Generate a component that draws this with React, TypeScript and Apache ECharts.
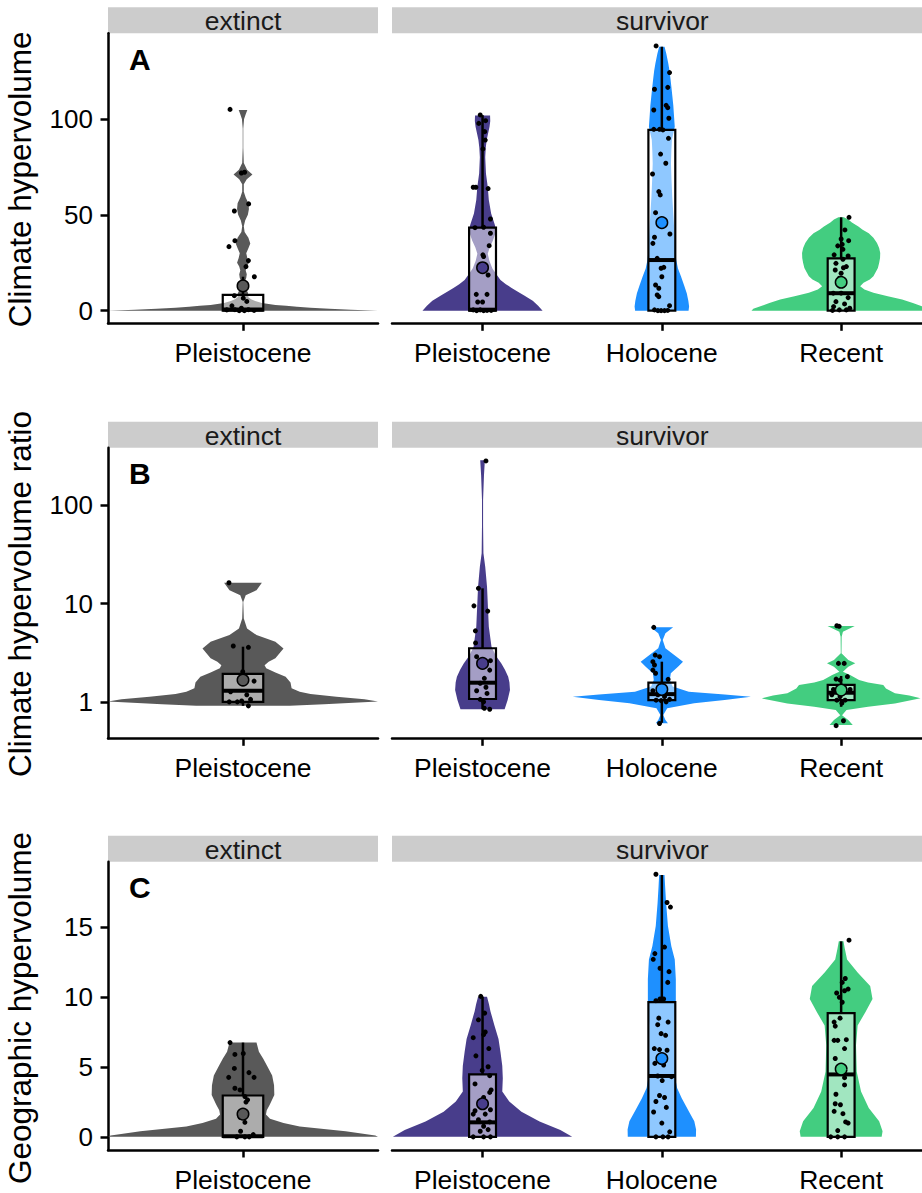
import React, { useEffect, useRef } from "react";
import * as echarts from "echarts";

// ---------- categories, labels ----------
const extinctCategories = ["Pleistocene"];
const survivorCategories = ["Pleistocene", "Holocene", "Recent"];
const facetLabels = ["extinct", "survivor"];
const panelLetters = ["A", "B", "C"];
const yTitles = ["Climate hypervolume", "Climate hypervolume ratio", "Geographic hypervolume"];
const yTicksA = [0, 50, 100];
const yTicksB = [1, 10, 100];
const yTicksC = [0, 5, 10, 15];

const colorExtinct = "#595959";
const colorPleistocene = "#483D8B";
const colorHolocene = "#1E90FF";
const colorRecent = "#43CD80";

// ---------- Panel A: climate hypervolume ----------
// violin profiles: [value, half-width in category units]
const violinA_ext = [[0,0.5],[0.5,0.4],[1,0.32],[1.5,0.25],[2,0.2],[2.5,0.16],[3,0.12],[4,0.07],[5,0.045],[6,0.03],[7,0.02],[8,0.02],[9.5,0.018],[11,0.012],[13,0.006],[15,0.006],[17,0.012],[19,0.014],[21,0.01],[23,0.014],[25,0.022],[27.5,0.016],[30,0.012],[32.5,0.02],[35,0.027],[38,0.02],[41,0.006],[44,0.003],[47,0.008],[50,0.018],[53,0.022],[56,0.02],[59,0.01],[62,0.003],[66,0.003],[68.5,0.014],[71,0.035],[73.5,0.015],[77,0.003],[85,0.001],[95,0.001],[100,0.004],[102.5,0.01],[104.7,0.016]];
const violinA_ple = [[0,0.335],[2.5,0.31],[5.2,0.28],[8,0.23],[10.3,0.19],[12,0.16],[13.8,0.13],[16,0.1],[19,0.077],[22,0.055],[26,0.038],[29.7,0.029],[33,0.04],[36.6,0.058],[41.8,0.077],[45,0.068],[50.7,0.048],[57.7,0.035],[64.6,0.029],[71.6,0.019],[80,0.015],[85,0.018],[89,0.023],[96,0.039],[99,0.043],[101.8,0.042]];
const violinA_hol = [[0,0.149],[2.1,0.152],[5,0.148],[9.1,0.139],[13,0.125],[17.8,0.107],[22,0.09],[26.5,0.08],[32,0.074],[38.6,0.071],[44,0.068],[49.1,0.065],[55,0.061],[59.5,0.058],[68.2,0.054],[76.8,0.051],[83,0.053],[89,0.056],[95.9,0.072],[102.9,0.067],[107,0.064],[111.6,0.059],[116,0.054],[120.3,0.049],[125,0.043],[129,0.036],[134,0.025],[137.7,0.015]];
const violinA_rec = [[0,0.5],[1,0.49],[2.3,0.45],[4,0.4],[5.8,0.34],[7.5,0.26],[9.3,0.18],[11,0.13],[12.7,0.106],[14.5,0.125],[16.2,0.16],[18,0.18],[19.7,0.19],[22.3,0.205],[24.9,0.212],[27.5,0.217],[30.1,0.218],[32.7,0.212],[35.3,0.2],[38,0.18],[40.4,0.154],[42.2,0.12],[43.9,0.096],[46,0.06],[47.5,0.04],[48.7,0.015]];
// box: [lower whisker, q1, median, q3, upper whisker]
const boxA_ext = [0, 0, 0.6, 8.2, 17.7];
const boxA_ple = [0, 0, 0.5, 43.3, 102];
const boxA_hol = [0, 0, 26.4, 94.3, 137.7];
const boxA_rec = [0, 0, 9.1, 27.3, 48.7];
const meansA = [12.9, 22.4, 45.9, 14.8];
// points: [jitter offset, value]
const pointsA_ext = [[-0.048,105],[-0.006,71.8],[0.006,72.2],[0.021,55.7],[-0.032,52],[-0.03,36.5],[-0.052,33.4],[0.02,26.1],[0.011,23],[0.042,17.7],[-0.032,7.8],[0.001,6.5],[0.014,4.8],[-0.041,2.5],[-0.006,1.3],[-0.03,0.5],[0.02,0.5],[0.041,0.1],[-0.06,0.4],[0.005,0],[-0.014,0]];
const pointsA_ple = [[-0.013,102.1],[-0.021,97.7],[0.017,99.1],[0.012,93.4],[0.015,89],[0.002,84.4],[-0.052,64.4],[-0.037,64.4],[0.031,63.7],[0.044,47.8],[-0.042,43.3],[0.006,43.5],[0.044,40.4],[0.037,33.9],[0.002,29.1],[0.006,28.2],[0.031,18.6],[-0.035,8.5],[0.025,8.5],[-0.027,4.5],[0,4.5],[-0.052,0.4],[-0.013,0.4],[0.025,0.1],[0.048,0.1],[0.006,0],[-0.033,0]];
const pointsA_hol = [[-0.032,138.1],[0.043,124.2],[-0.041,115.5],[0.033,116.5],[-0.045,104.7],[0.024,107.1],[0.033,105.9],[0.039,100.4],[-0.045,94.6],[-0.013,94.6],[0.006,94.3],[0.037,89.9],[-0.007,81.7],[0.022,76.9],[-0.052,71.3],[-0.017,62.1],[-0.009,60.4],[-0.035,51.1],[0.045,40],[-0.041,38.3],[-0.05,35.1],[-0.026,27.3],[0.011,22.6],[-0.004,22.1],[0,17.7],[-0.035,13.4],[-0.017,11.7],[-0.026,8.2],[-0.017,7.3],[0.043,2.6],[-0.041,0.4],[-0.022,0],[-0.004,0],[0.015,0],[0.033,0.1]];
const pointsA_rec = [[0.044,48.7],[0.021,42.1],[0,37.4],[0.042,36.5],[-0.019,33.8],[0.006,34.6],[0.01,32],[-0.039,29.1],[0.039,28.5],[0.01,26.8],[-0.029,24.7],[0.029,23],[-0.033,21.2],[0.013,22.4],[0,19.5],[-0.01,16.9],[-0.044,9.1],[0,9.1],[0.039,6.8],[-0.029,4.7],[0.019,3.5],[-0.042,2.1],[-0.01,0.4],[0.029,0.4],[-0.048,0.1],[0.048,1.3]];

// ---------- Panel B: climate hypervolume ratio (log scale) ----------
const violinB_ext = [[0.925,0.173],[0.955,0.3],[1.016,0.5],[1.072,0.45],[1.14,0.346],[1.216,0.25],[1.282,0.21],[1.387,0.18],[1.585,0.176],[1.82,0.158],[2.0,0.12],[2.21,0.086],[2.38,0.08],[2.57,0.095],[2.79,0.12],[3.52,0.15],[4.11,0.12],[4.81,0.05],[5.61,0.015],[7.08,0.003],[10.4,0.001],[12.2,0.01],[13.7,0.05],[16.3,0.07]];
const violinB_ple = [[0.85,0.123],[0.871,0.125],[1.057,0.14],[1.334,0.153],[1.585,0.15],[1.82,0.143],[2.14,0.125],[2.48,0.105],[2.95,0.075],[3.66,0.05],[5.83,0.035],[9.29,0.03],[14.8,0.025],[23.7,0.015],[32.4,0.005],[63,0.003],[112,0.003],[200,0.008],[285,0.013]];
const violinB_hol = [[0.612,0.034],[0.661,0.02],[0.745,0.008],[0.871,0.03],[0.977,0.18],[1.057,0.35],[1.14,0.497],[1.2,0.35],[1.282,0.15],[1.442,0.06],[1.683,0.045],[1.968,0.05],[2.296,0.09],[2.582,0.118],[2.904,0.08],[3.524,0.02],[4.285,0.005],[5.01,0.02],[5.75,0.063]];
const violinB_rec = [[0.589,0.065],[0.661,0.04],[0.741,0.005],[0.834,0.03],[0.902,0.15],[0.975,0.3],[1.096,0.443],[1.175,0.38],[1.233,0.3],[1.38,0.25],[1.5,0.235],[1.585,0.15],[1.683,0.1],[1.892,0.05],[2.042,0.01],[2.296,0.04],[2.483,0.079],[2.685,0.04],[3.133,0.002],[4.624,0.003],[5.2,0.01],[5.93,0.076]];
const boxB_ext = [0.92, 1.01, 1.31, 1.94, 3.66];
const boxB_ple = [0.85, 1.08, 1.58, 3.53, 14.3];
const boxB_hol = [0.62, 1.05, 1.21, 1.58, 2.58];
const boxB_rec = [0.9, 1.05, 1.25, 1.5, 1.85];
const meansB = [1.68, 2.48, 1.35, 1.33];
const pointsB_ext = [[-0.052,16.3],[-0.036,3.72],[0.02,3.61],[-0.001,2.04],[0.041,1.64],[-0.046,1.28],[0.014,1.19],[-0.051,1.01],[-0.021,1.01],[0.028,1.07],[0.02,0.92],[-0.005,1.03]];
const pointsB_ple = [[0.019,280],[-0.023,14.3],[-0.048,9.5],[0.029,8.4],[-0.04,5.3],[-0.039,4.0],[-0.033,2.9],[0.044,2.64],[0.04,2.12],[0.01,1.75],[-0.013,1.56],[0.019,1.42],[-0.033,1.31],[0.025,1.23],[-0.013,1.07],[0.006,1.01],[0.01,0.87],[0.04,0.85]];
const pointsB_hol = [[-0.045,5.75],[-0.037,3.01],[-0.013,2.9],[-0.05,2.58],[-0.041,2.39],[-0.05,2.12],[-0.035,1.97],[0.035,1.71],[-0.05,1.31],[-0.022,1.19],[0.015,1.14],[0.043,1.07],[-0.032,1.05],[-0.004,1.04],[0.024,1.01],[-0.013,0.61]];
const pointsB_rec = [[-0.024,5.97],[-0.011,5.89],[-0.015,2.48],[0.017,2.48],[0.035,1.82],[-0.028,1.72],[-0.006,1.68],[-0.043,1.35],[0.05,1.35],[-0.052,1.19],[-0.006,1.14],[0.022,1.05],[-0.024,1.05],[0.004,0.98],[0.013,0.65],[-0.028,0.58]];

// ---------- Panel C: geographic hypervolume ----------
const violinC_ext = [[0,0.5],[0.1,0.49],[0.4,0.38],[0.75,0.21],[1.0,0.15],[1.3,0.1],[1.6,0.085],[1.9,0.088],[2.3,0.099],[3.0,0.116],[3.7,0.115],[4.4,0.108],[5.1,0.089],[5.6,0.075],[6.1,0.059],[6.75,0.05]];
const violinC_ple = [[0,0.5],[0.5,0.434],[1.1,0.318],[1.8,0.217],[2.54,0.149],[3.25,0.11],[4.19,0.113],[5.1,0.11],[6.08,0.1],[7.0,0.089],[8.0,0.066],[9.0,0.044],[9.5,0.036],[10.04,0.025]];
const violinC_hol = [[0,0.19],[0.52,0.191],[1.11,0.181],[1.82,0.151],[2.77,0.111],[3.5,0.085],[4.19,0.075],[6.08,0.07],[7.98,0.07],[9.63,0.078],[11.3,0.078],[12.7,0.072],[13.65,0.053],[15.1,0.034],[16.7,0.024],[18.0,0.018],[18.75,0.015]];
const violinC_rec = [[0,0.226],[0.4,0.231],[1.11,0.212],[2.06,0.154],[3.25,0.111],[4.67,0.087],[6.56,0.083],[7.98,0.092],[8.92,0.135],[9.87,0.175],[10.8,0.162],[11.76,0.092],[12.7,0.033],[13.5,0.02],[14.0,0.013]];
const boxC_ext = [0, 0, 0.05, 2.96, 6.75];
const boxC_ple = [0, 0, 1.04, 4.47, 10.04];
const boxC_hol = [0, 0, 4.36, 9.64, 18.75];
const boxC_rec = [0, 0, 4.47, 8.86, 14.0];
const meansC = [1.63, 2.37, 5.61, 4.85];
const pointsC_ext = [[-0.048,6.75],[-0.03,5.9],[0.001,5.97],[-0.032,4.9],[-0.053,4.26],[0.022,4.6],[0.041,4.26],[-0.03,3.48],[-0.011,3.36],[0.007,2.89],[0.017,2.65],[0.011,2.49],[-0.002,1.83],[-0.011,1.4],[0.007,1.04],[-0.009,0.4],[0.038,0.16],[0.023,0],[-0.023,0],[0.007,0]];
const pointsC_ple = [[-0.01,10.06],[0.012,8.86],[-0.023,8.38],[0.015,7.51],[0.006,7.32],[-0.052,7.1],[0.035,6.32],[-0.037,5.8],[0.031,5.02],[-0.002,4.76],[0.04,4.38],[-0.042,3.79],[0.048,3.36],[0.04,3.18],[0.006,2.82],[0.044,1.94],[-0.042,1.87],[-0.052,1.63],[0.015,1.63],[-0.023,1.23],[0.04,1.07],[0.006,0.76],[-0.013,0.4],[0.031,0.52],[-0.052,0],[0.006,0],[0.044,0]];
const pointsC_hol = [[-0.033,18.8],[0.029,16.78],[0.048,16.45],[0.015,13.59],[-0.039,13.12],[-0.048,12.71],[-0.01,12.07],[0.04,11.83],[0.033,11.06],[-0.033,9.75],[-0.01,9.87],[0.01,9.87],[-0.017,8.5],[0.035,8.22],[-0.023,8.03],[-0.004,7.39],[0.021,7.27],[-0.042,6.32],[-0.013,6.25],[0.029,6.2],[-0.039,5.26],[0.01,5.14],[-0.023,4.36],[0.054,4.31],[0.002,4.03],[-0.013,2.96],[0.015,2.82],[-0.033,2.53],[0.025,2.11],[-0.046,1.78],[0,0.99],[0.044,0.36],[-0.033,0],[0.006,0],[0.035,0]];
const pointsC_rec = [[0.044,14.08],[0.023,11.34],[0.006,11.06],[0.039,10.58],[0.019,10.46],[-0.025,10.3],[-0.01,9.99],[0.006,9.64],[-0.006,8.5],[-0.039,8.22],[-0.033,7.93],[-0.019,6.91],[-0.039,6.91],[0.029,6.96],[0.019,6.32],[-0.033,5.61],[0.019,4.24],[0.019,3.72],[-0.029,3.05],[-0.033,2.37],[-0.004,2.3],[-0.039,1.83],[0.01,1.66],[0.025,1.07],[0.039,0.99],[-0.019,0.45],[-0.058,0],[-0.019,0],[0.019,0]];

// ---------- layout ----------
const FONT = "'Liberation Sans', Arial, Helvetica, sans-serif";
const rows = [
  { top: 33.3, height: 290, yMin: -6.6, yMax: 144.7, ticks: yTicksA, log: false },
  { top: 447.7, height: 290.6, yMin: -0.365, yMax: 2.581, ticks: yTicksB, log: true },
  { top: 861.7, height: 290.6, yMin: -0.94, yMax: 19.7, ticks: yTicksC, log: false },
];
const panels = [
  { left: 108, width: 270, xMin: 0.5, xMax: 1.5, cats: extinctCategories },
  { left: 392, width: 530, xMin: 0.495, xMax: 3.451, cats: survivorCategories },
];

type Group = { violin: number[][]; box: number[]; mean: number; points: number[][]; color: string; panel: number; x: number };

function rowGroups(
  v: number[][][], b: number[][], m: number[], p: number[][][]
): Group[] {
  const colors = [colorExtinct, colorPleistocene, colorHolocene, colorRecent];
  const panelOf = [0, 1, 1, 1];
  const xOf = [1, 1, 2, 3];
  return [0, 1, 2, 3].map((i) => ({ violin: v[i], box: b[i], mean: m[i], points: p[i], color: colors[i], panel: panelOf[i], x: xOf[i] }));
}

const groupsByRow: Group[][] = [
  rowGroups([violinA_ext, violinA_ple, violinA_hol, violinA_rec], [boxA_ext, boxA_ple, boxA_hol, boxA_rec], meansA, [pointsA_ext, pointsA_ple, pointsA_hol, pointsA_rec]),
  rowGroups([violinB_ext, violinB_ple, violinB_hol, violinB_rec], [boxB_ext, boxB_ple, boxB_hol, boxB_rec], meansB, [pointsB_ext, pointsB_ple, pointsB_hol, pointsB_rec]),
  rowGroups([violinC_ext, violinC_ple, violinC_hol, violinC_rec], [boxC_ext, boxC_ple, boxC_hol, boxC_rec], meansC, [pointsC_ext, pointsC_ple, pointsC_hol, pointsC_rec]),
];

function buildOption() {
  const grid: any[] = [];
  const xAxis: any[] = [];
  const yAxis: any[] = [];
  const series: any[] = [];
  const graphic: any[] = [];

  rows.forEach((row, r) => {
    const tf = row.log ? (v: number) => Math.log10(v) : (v: number) => v;
    panels.forEach((pn, p) => {
      const idx = r * 2 + p;
      grid.push({ left: pn.left, top: row.top, width: pn.width, height: row.height, containLabel: false });
      const xTickVals = pn.cats.map((_, i) => i + 1);
      xAxis.push({
        type: "value", gridIndex: idx, min: pn.xMin, max: pn.xMax,
        axisLine: { show: true, onZero: false, lineStyle: { color: "#000", width: 2.5 } },
        axisTick: { show: true, length: 7.5, customValues: xTickVals, lineStyle: { color: "#000", width: 2.5 } },
        axisLabel: {
          show: true, customValues: xTickVals, margin: 16, fontSize: 26.5, color: "#000", fontFamily: FONT,
          formatter: (v: number) => pn.cats[Math.round(v) - 1] ?? "",
        },
        splitLine: { show: false },
      });
      const yTickVals = row.ticks.map((t) => tf(t));
      yAxis.push({
        type: "value", gridIndex: idx, min: row.yMin, max: row.yMax, show: p === 0,
        axisLine: { show: true, onZero: false, lineStyle: { color: "#000", width: 2.5 } },
        axisTick: { show: true, length: 7.5, customValues: yTickVals, lineStyle: { color: "#000", width: 2.5 } },
        axisLabel: {
          show: true, customValues: yTickVals, margin: 15, fontSize: 26, color: "#000", fontFamily: FONT,
          formatter: (v: number) => (row.log ? String(Math.round(Math.pow(10, v))) : String(Math.round(v))),
        },
        splitLine: { show: false },
      });
      // strip
      const stripTop = row.top - 26;
      graphic.push({ type: "rect", shape: { x: pn.left, y: stripTop, width: pn.width, height: 26 }, style: { fill: "#cccccc" }, silent: true, z: 0 });
      graphic.push({
        type: "text", x: p === 0 ? 243 : 662.3, y: stripTop + 14, silent: true, z: 10,
        style: { text: facetLabels[p], fontSize: 26.5, fontFamily: FONT, fill: "#1a1a1a", align: "center", verticalAlign: "middle" },
      });
    });

    // panel letter
    graphic.push({
      type: "text", x: 129, y: row.top + 26, silent: true, z: 10,
      style: { text: panelLetters[r], fontSize: 30, fontWeight: "bold", fontFamily: FONT, fill: "#000", align: "left", verticalAlign: "middle" },
    });
    // y title
    graphic.push({
      type: "text", x: 20, y: row.top + row.height / 2 + 1, rotation: Math.PI / 2, silent: true, z: 10,
      style: { text: yTitles[r], fontSize: 31.5, fontFamily: FONT, fill: "#000", align: "center", verticalAlign: "middle" },
    });

    groupsByRow[r].forEach((g) => {
      const idx = r * 2 + g.panel;
      const xc = g.x;
      // violin
      series.push({
        type: "custom", xAxisIndex: idx, yAxisIndex: idx, z: 1, silent: true, clip: true,
        data: [[xc, tf(g.violin[0][0])]],
        renderItem: (_params: any, api: any) => {
          const left = g.violin.map(([v, w]) => api.coord([xc - w, tf(v)]));
          const right = g.violin.map(([v, w]) => api.coord([xc + w, tf(v)])).reverse();
          return { type: "polygon", shape: { points: left.concat(right) }, style: { fill: g.color, stroke: "none" } };
        },
      });
      // box + whiskers
      series.push({
        type: "custom", xAxisIndex: idx, yAxisIndex: idx, z: 2, silent: true,
        data: [[xc, tf(g.box[2])]],
        renderItem: (_params: any, api: any) => {
          const [lo, q1, med, q3, hi] = g.box.map(tf);
          const hw = 0.075;
          const tl = api.coord([xc - hw, q3]);
          const br = api.coord([xc + hw, q1]);
          const ml = api.coord([xc - hw, med]);
          const mr = api.coord([xc + hw, med]);
          const pHi = api.coord([xc, hi]);
          const pQ3 = api.coord([xc, q3]);
          const pQ1 = api.coord([xc, q1]);
          const pLo = api.coord([xc, lo]);
          return {
            type: "group",
            children: [
              { type: "line", shape: { x1: pQ3[0], y1: pQ3[1], x2: pHi[0], y2: pHi[1] }, style: { stroke: "#000", lineWidth: 2.5 } },
              { type: "line", shape: { x1: pQ1[0], y1: pQ1[1], x2: pLo[0], y2: pLo[1] }, style: { stroke: "#000", lineWidth: 2.5 } },
              { type: "rect", shape: { x: tl[0], y: tl[1], width: br[0] - tl[0], height: br[1] - tl[1] }, style: { fill: "rgba(255,255,255,0.5)", stroke: "#000", lineWidth: 2.2 } },
              { type: "line", shape: { x1: ml[0], y1: ml[1], x2: mr[0], y2: mr[1] }, style: { stroke: "#000", lineWidth: 4 } },
            ],
          };
        },
      });
      // jittered points
      series.push({
        type: "scatter", xAxisIndex: idx, yAxisIndex: idx, z: 3, silent: true,
        symbol: "circle", symbolSize: 5,
        itemStyle: { color: "#000", opacity: 1 },
        data: g.points.map(([o, v]) => [xc + o, tf(v)]),
      });
      // mean
      series.push({
        type: "scatter", xAxisIndex: idx, yAxisIndex: idx, z: 4, silent: true,
        symbol: "circle", symbolSize: 11.5,
        itemStyle: { color: g.color, borderColor: "#000", borderWidth: 1.5, opacity: 1 },
        data: [[xc, tf(g.mean)]],
      });
    });
  });

  return { animation: false, backgroundColor: "#ffffff", grid, xAxis, yAxis, series, graphic, tooltip: { show: false } };
}

export default function App() {
  const ref = useRef<HTMLDivElement>(null);
  useEffect(() => {
    if (!ref.current) return;
    const chart = echarts.init(ref.current, undefined, { renderer: "svg" });
    chart.setOption(buildOption() as any);
    return () => chart.dispose();
  }, []);
  return (
    <div style={{ position: "fixed", left: 0, top: 0, width: 922, height: 1193, background: "#fff" }}>
      <div ref={ref} style={{ width: 922, height: 1193 }} />
    </div>
  );
}
